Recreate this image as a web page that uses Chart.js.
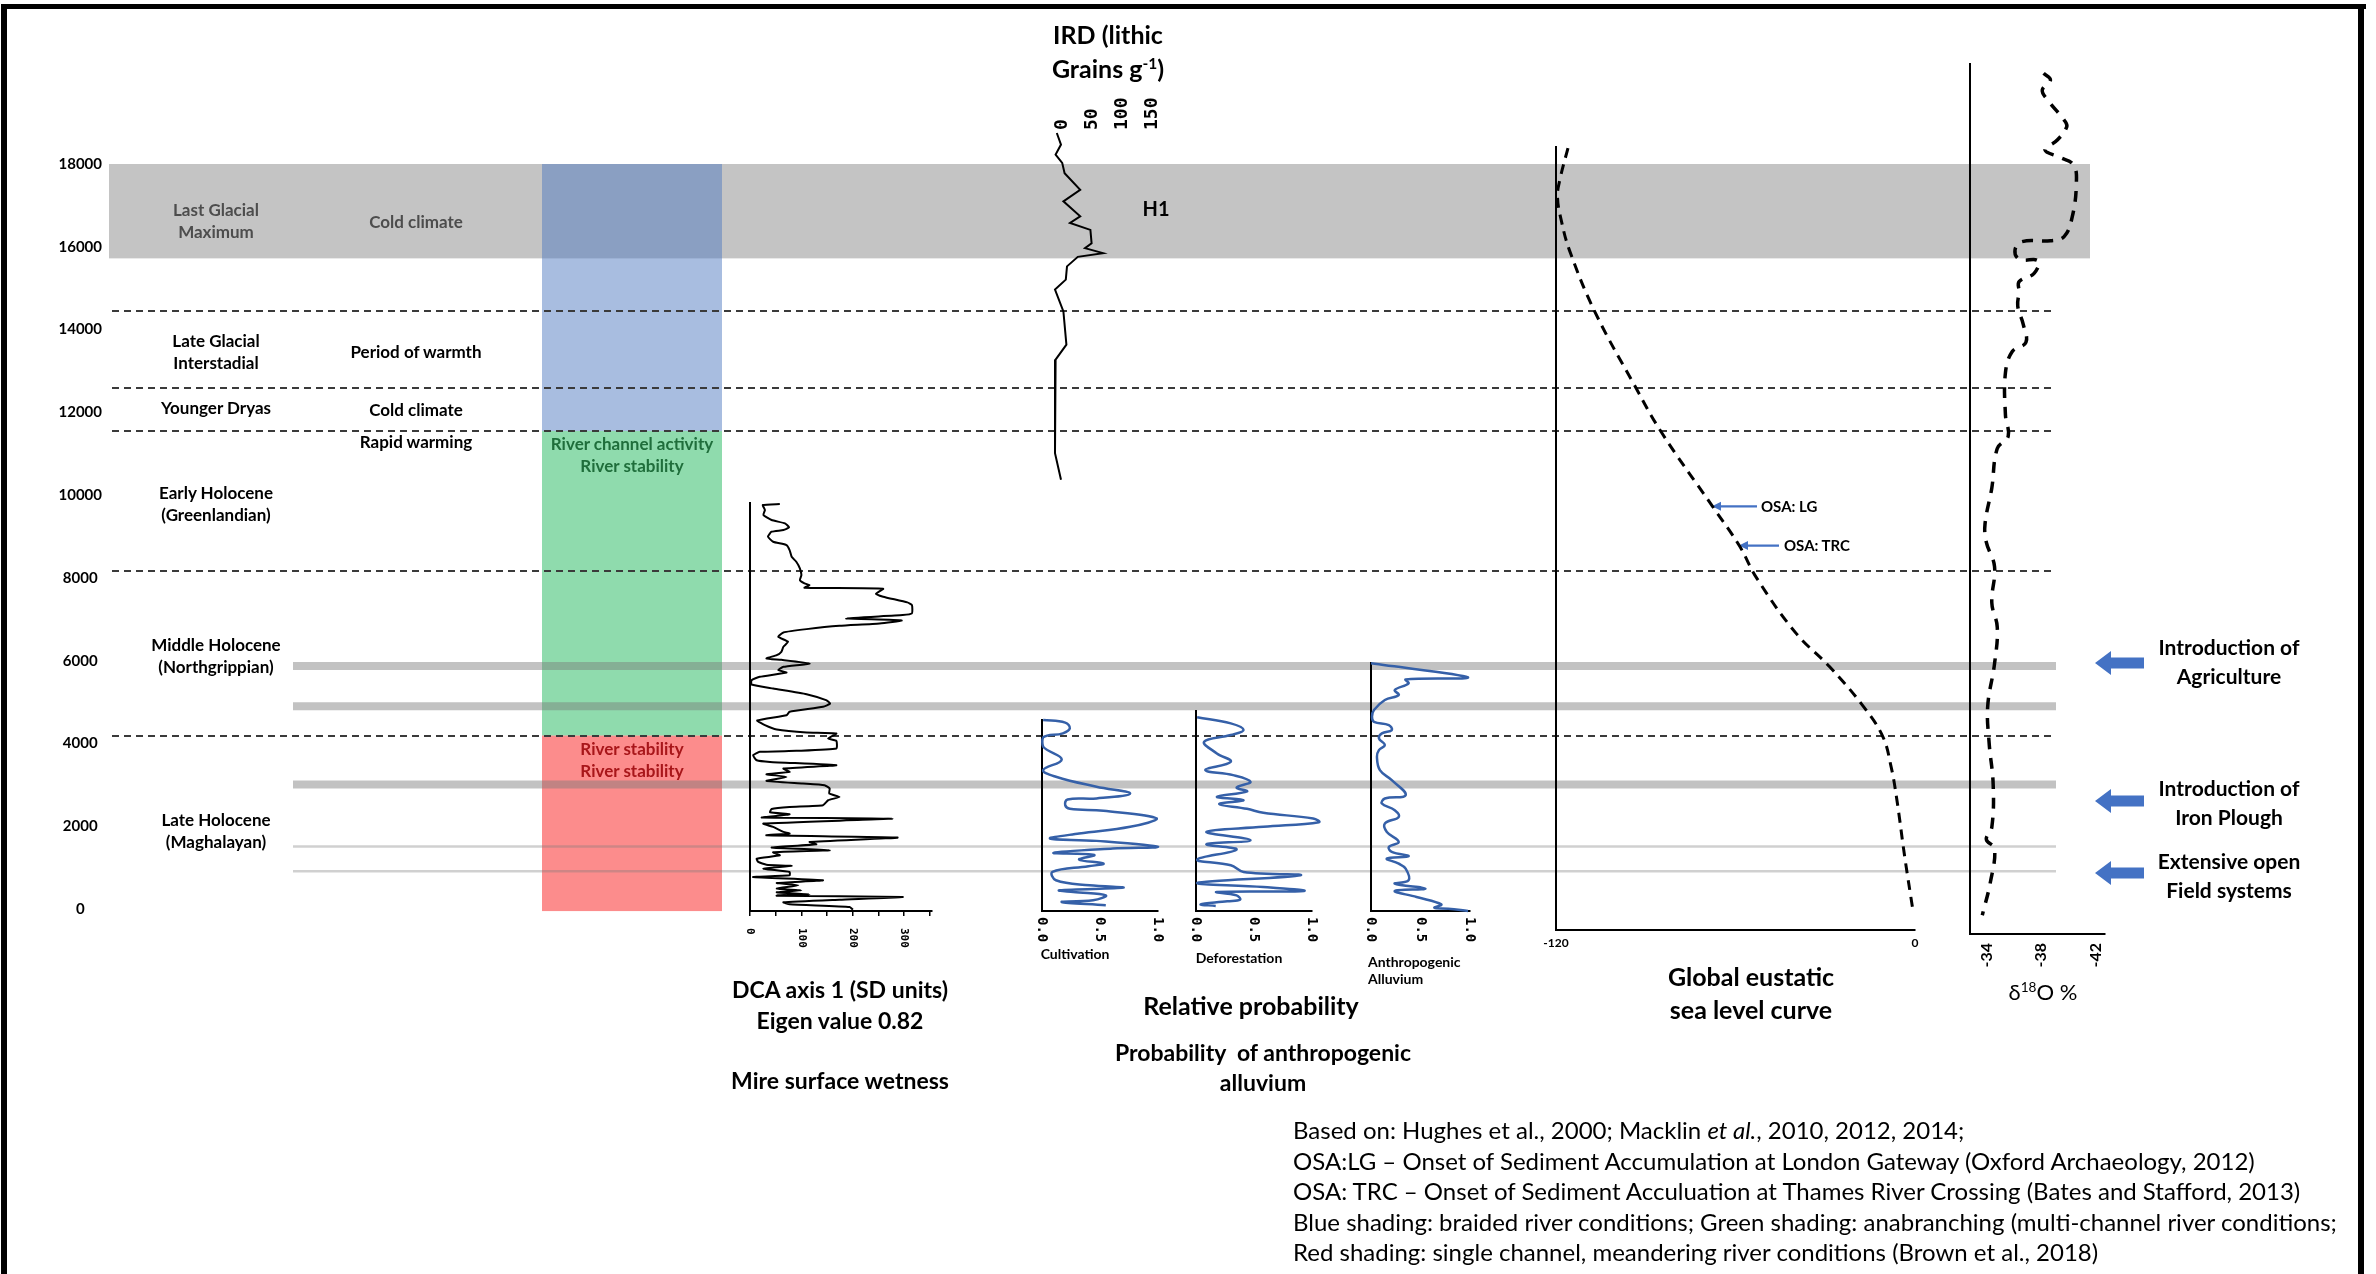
<!DOCTYPE html>
<html>
<head>
<meta charset="utf-8">
<script src="https://cdn.jsdelivr.net/npm/chart.js@4.4.1/dist/chart.umd.min.js"></script>
<style>
  body { margin: 0; background: #fff; }
  #fig { position: relative; width: 2376px; height: 1274px; overflow: hidden; background: #fff;
         font-family: Lato, "Open Sans", sans-serif; color: #000; }
  #fig canvas { position: absolute; }
  .t { position: absolute; white-space: nowrap; font-weight: 700; }
  sup { font-size: 62%; line-height: 0; vertical-align: super; }
</style>
</head>
<body>
<div id="fig"><canvas id="bg" width="2376" height="1274" style="left:0;top:0"></canvas></div>
<script>
// ---- data (years BP on the vertical axis) ----
const irdYears = [18740, 18460, 18220, 18020, 17770, 17370, 17090, 16730, 16570, 16400, 16080, 15960,
  15840, 15750, 15520, 15200, 14960, 14430, 13630, 13270, 12620, 11570, 11010, 10370];
const irdGrains = [3, 10, 1, 12, 16, 42, 14, 42, 25, 59, 61, 50, 80, 38, 20, 18, 0, 14, 19, 1, 0, 0, 0, 10];

const dcaYears = [9786, 9761, 9641, 9520, 9399, 9318, 9222, 9157, 9117, 8996, 8875, 8795, 8674, 8513, 8392,
  8231, 8070, 7949, 7869, 7828, 7764, 7740, 7619, 7547, 7410, 7345, 7144, 7104, 7023, 6975, 6902, 6846,
  6765, 6685, 6580, 6459, 6338, 6218, 6137, 6057, 6024, 5936, 5855, 5775, 5718, 5614, 5533, 5428, 5332,
  5195, 5050, 4969, 4889, 4768, 4687, 4560, 4446, 4341, 4269, 4245, 4124, 4067, 3882, 3826, 3802, 3721,
  3600, 3560, 3480, 3399, 3318, 3262, 3198, 3101, 3037, 2996, 2916, 2795, 2714, 2634, 2513, 2473, 2424,
  2344, 2296, 2263, 2215, 2191, 2070, 1990, 1869, 1828, 1788, 1732, 1627, 1571, 1490, 1426, 1377, 1305,
  1224, 1144, 1079, 1047, 983, 902, 822, 781, 701, 636, 580, 499, 459, 411, 363, 330, 298, 234, 169, 121,
  57, -8];
const dcaScores = [58, 25, 29, 26, 42, 68, 76, 65, 42, 35, 45, 71, 77, 81, 90,
  97, 100, 97, 106, 116, 106, 259, 245, 259, 306, 315, 315, 297, 187, 295, 252, 174,
  110, 65, 55, 74, 65, 61, 52, 32, 61, 116, 65, 55, 71, 19, 3, 3, 45,
  110, 148, 156, 142, 77, 71, 14, 29, 52, 110, 168, 152, 168, 168, 90, 19, 6,
  13, 39, 168, 65, 77, 32, 71, 32, 103, 145, 155, 154, 174, 152, 142, 77, 42,
  39, 77, 58, 23, 277, 26, 45, 65, 77, 32, 287, 116, 129, 42, 155, 45, 58,
  13, 16, 32, 81, 26, 77, 77, 6, 142, 52, 94, 52, 100, 52, 116, 52, 297, 174, 65, 77,
  194, 200];

const cultYears = [4567, 4502, 4365, 4245, 4148, 3922, 3616, 3359, 3198, 2956, 2795, 2674, 2650, 2513, 2424,
  2376, 2191, 1990, 1828, 1708, 1651, 1506, 1466, 1361, 1310, 1200, 1103, 1039, 902, 701, 580, 524, 459,
  419, 338, 218, 177, 97];
const cultProb = [0.01, 0.20, 0.24, 0.18, 0.01, 0.01, 0.17, 0.01, 0.12, 0.47, 0.76, 0.47, 0.22, 0.20, 0.24,
  0.53, 0.99, 0.76, 0.32, 0.07, 0.47, 1.0, 0.61, 0.10, 0.45, 0.32, 0.53, 0.40, 0.09, 0.12, 0.41, 0.70, 0.15,
  0.27, 0.55, 0.44, 0.17, 0.55];

const defoYears = [4631, 4486, 4325, 4204, 4043, 3761, 3560, 3359, 3238, 3077, 2940, 2843, 2714, 2634, 2537,
  2424, 2328, 2191, 2102, 1990, 1869, 1667, 1571, 1442, 1200, 1063, 902, 822, 636, 540, 443, 419, 338, 234,
  193, 121, 81];
const defoProb = [0.01, 0.30, 0.41, 0.30, 0.07, 0.18, 0.30, 0.08, 0.32, 0.47, 0.35, 0.44, 0.18, 0.41, 0.20,
  0.44, 0.58, 1.01, 1.06, 0.58, 0.09, 0.47, 0.09, 0.35, 0.01, 0.30, 0.41, 0.90, 0.01, 0.58, 0.93, 0.18, 0.35,
  0.38, 0.27, 0.04, 0.17];

const alluYears = [5936, 5598, 5549, 5453, 5292, 5171, 5050, 4808, 4647, 4526, 4446, 4325, 4245, 4124, 3963,
  3842, 3681, 3359, 3117, 2754, 2674, 2553, 2392, 2231, 2070, 1869, 1627, 1506, 1385, 1281, 1224, 1103, 983,
  701, 620, 499, 443, 298, 121, 40, 16, -40];
const alluProb = [0.0, 0.98, 0.35, 0.38, 0.24, 0.28, 0.14, 0.03, 0.01, 0.03, 0.18, 0.21, 0.11, 0.08, 0.14,
  0.08, 0.06, 0.09, 0.21, 0.35, 0.14, 0.11, 0.24, 0.28, 0.14, 0.16, 0.28, 0.18, 0.21, 0.38, 0.16, 0.28, 0.35,
  0.38, 0.24, 0.55, 0.24, 0.46, 0.71, 0.64, 0.78, 0.98];

const seaYears = [18375, 17642, 17203, 16618, 15886, 14421, 12665, 11493, 9734, 8782, 7978, 6661, 5854, 4905,
  4170, 3438, 2706, 1242, -75];
const seaLevel = [-116, -118.6, -119.5, -118.2, -115.4, -107, -93.9, -84.6, -67.8, -58.8, -52.8, -39.8, -28.6,
  -17.4, -10.8, -8, -6.2, -3.4, -0.6];

const d18oYears = [20190, 20029, 19788, 19546, 19063, 18902, 18579, 18338, 18161, 17975, 17532, 16727, 16244,
  16147, 16123, 15922, 15700, 15660, 15358, 15157, 14915, 14567, 14130, 13690, 13470, 12958, 11931, 11418,
  11126, 10174, 9297, 8857, 8270, 7393, 6806, 5929, 4902, 4025, 3000, 1974, 1681, 1462, 657, -150];
const d18oValues = [-38.2, -38.7, -38.1, -38.5, -39.7, -39.9, -39.2, -38.3, -39.4, -40.4, -40.6, -40.3, -39.7,
  -38.7, -36.6, -36.1, -36.4, -37.8, -37.5, -36.4, -36.4, -36.3, -36.7, -36.9, -35.9, -35.4, -35.4, -35.6,
  -34.8, -34.4, -33.9, -34, -34.6, -34.4, -34.8, -34.6, -34.1, -34.2, -34.5, -34.4, -34, -34.6, -34.3, -33.7];

// tick labels
const irdTicks = [0, 50, 100, 150];
const dcaTicks = [0, 100, 200, 300];
const dcaMarks = [0, 50, 100, 150, 200, 250, 300, 350];
const probTicks = [0, 0.5, 1];
const seaTicks = [-120, 0];
const d18oTicks = [-34, -38, -42];

// periods and shading (years BP)
const glacialBand = [15720, 18000];
const riverSpans = [[11550, 18000], [4190, 11550], [-50, 4190]];
const riverColors = ['rgba(78,120,192,0.49)', 'rgba(27,182,88,0.49)', 'rgba(249,20,20,0.49)'];
const boundaryYears = [14450, 12600, 11550, 8170, 4190];
const eventYears = [5870, 4900, 3010];
const eventThinYears = [1510, 910];
const osaYears = [9730, 8780];

Chart.defaults.font.family = 'Lato, "Open Sans", sans-serif';
Chart.defaults.color = '#000';

// x axis whose rotated labels hang downward (read top to bottom)
class DownLinearScale extends Chart.LinearScale {
  _getXAxisLabelAlignment() {
    return this.labelRotation < 0 ? 'left' : super._getXAxisLabelAlignment();
  }
}
DownLinearScale.id = 'downLinear';
DownLinearScale.defaults = Chart.LinearScale.defaults;
Chart.register(DownLinearScale);

const fig = document.getElementById('fig');
function py(yr) { return 909 - yr * 745 / 18000; }

const bgShapes = {
  id: 'bgShapes',
  beforeDatasetsDraw(chart) {
    const ctx = chart.ctx, Y = v => chart.scales.y.getPixelForValue(v);
    ctx.save();
    ctx.fillStyle = '#c4c4c4';
    ctx.fillRect(109, Y(glacialBand[1]), 2090 - 109, Y(glacialBand[0]) - Y(glacialBand[1]));
    riverSpans.forEach((s, i) => {
      ctx.fillStyle = riverColors[i];
      ctx.fillRect(542, Y(s[1]), 180, Y(s[0]) - Y(s[1]));
    });
    ctx.strokeStyle = '#3a3a3a'; ctx.lineWidth = 2; ctx.setLineDash([7, 5]);
    boundaryYears.forEach(v => {
      const p = Math.round(Y(v));
      ctx.beginPath(); ctx.moveTo(112, p); ctx.lineTo(2056, p); ctx.stroke();
    });
    ctx.setLineDash([]);
    ctx.strokeStyle = 'rgba(120,120,120,0.45)'; ctx.lineWidth = 8;
    eventYears.forEach(v => {
      ctx.beginPath(); ctx.moveTo(293, Y(v)); ctx.lineTo(2056, Y(v)); ctx.stroke();
    });
    ctx.strokeStyle = 'rgba(120,120,120,0.35)'; ctx.lineWidth = 2.5;
    eventThinYears.forEach(v => {
      ctx.beginPath(); ctx.moveTo(293, Y(v)); ctx.lineTo(2056, Y(v)); ctx.stroke();
    });
    // block arrows on the right
    ctx.fillStyle = '#4472c4';
    [663, 801, 873].forEach(y => {
      ctx.beginPath();
      ctx.moveTo(2095, y); ctx.lineTo(2111, y - 12); ctx.lineTo(2111, y - 5.5); ctx.lineTo(2144, y - 5.5);
      ctx.lineTo(2144, y + 5.5); ctx.lineTo(2111, y + 5.5); ctx.lineTo(2111, y + 12); ctx.closePath(); ctx.fill();
    });
    // OSA arrows
    ctx.strokeStyle = '#4472c4'; ctx.lineWidth = 2.2;
    [[1712, 1757], [1739, 1779]].forEach((a, i) => {
      const y = Y(osaYears[i]);
      ctx.beginPath(); ctx.moveTo(a[1], y); ctx.lineTo(a[0] + 6, y); ctx.stroke();
      ctx.beginPath(); ctx.moveTo(a[0], y); ctx.lineTo(a[0] + 9, y - 4.5); ctx.lineTo(a[0] + 9, y + 4.5); ctx.closePath(); ctx.fill();
    });
    // frame
    ctx.fillStyle = '#000';
    ctx.fillRect(1, 4, 6, 1274);
    ctx.fillRect(1, 4, 2365, 5);
    ctx.fillRect(2358, 4, 6, 1274);
    ctx.restore();
  }
};

new Chart(document.getElementById('bg'), {
  type: 'scatter',
  data: { datasets: [] },
  plugins: [bgShapes],
  options: {
    responsive: false, animation: false, devicePixelRatio: 1,
    layout: { padding: { left: 0, right: 276, top: 164, bottom: 1274 - 909 } },
    plugins: { legend: { display: false }, tooltip: { enabled: false } },
    scales: {
      x: { display: false, min: 0, max: 1 },
      y: {
        min: 0, max: 18000,
        afterFit: s => { s.width = 109; },
        ticks: { stepSize: 2000, crossAlign: 'center', padding: 7, color: '#000',
                 font: { size: 15, weight: 'bold' }, callback: v => String(v) },
        grid: { display: false, drawTicks: false },
        border: { display: false }
      }
    }
  }
});

// ---- one small chart per proxy record, sharing the same year-to-pixel mapping ----
const PAD = 30;
function panel(o) {
  const topH = o.topH || 0, botH = o.botH || 0;
  const top = py(o.yMax), bottom = py(o.yMin);
  const cv = document.createElement('canvas');
  cv.width = Math.round(o.x1 - o.x0 + 2 * PAD);
  cv.height = Math.round(bottom - top + topH + botH + 2 * PAD);
  cv.style.left = Math.round(o.x0 - PAD) + 'px';
  cv.style.top = Math.round(top - topH - PAD) + 'px';
  fig.appendChild(cv);
  new Chart(cv, {
    type: 'scatter',
    data: {
      datasets: [{
        data: o.years.map((yr, i) => ({ x: o.values[i], y: yr })),
        showLine: true, pointRadius: 0, fill: false, clip: false,
        borderColor: o.color || '#000', borderWidth: o.width || 2,
        borderDash: o.dash || [], tension: o.tension || 0
      }]
    },
    options: {
      responsive: false, animation: false, devicePixelRatio: 1,
      layout: { padding: PAD },
      plugins: { legend: { display: false }, tooltip: { enabled: false } },
      scales: {
        x: {
          type: o.down ? 'downLinear' : 'linear',
          position: o.xPos || 'bottom',
          min: o.xMin, max: o.xMax, reverse: !!o.reverse,
          afterFit: s => { s.height = o.xPos === 'top' ? topH : botH; },
          afterBuildTicks: s => { s.ticks = (o.marks || o.ticks).map(v => ({ value: v })); },
          ticks: {
            autoSkip: false, minRotation: o.rot || 0, maxRotation: o.rot || 0,
            padding: o.pad || 4, labelOffset: o.labelOffset || 0, color: '#000',
            font: o.tickFont,
            callback: v => (o.ticks.includes(v) ? (o.fmt ? o.fmt(v) : String(v)) : '')
          },
          grid: { display: !!o.tickMarks, drawOnChartArea: false, drawTicks: !!o.tickMarks,
                  tickLength: 5, color: '#000', lineWidth: 1.5 },
          border: { display: o.xBorder !== false, color: '#000', width: 2 }
        },
        y: {
          min: o.yMin, max: o.yMax,
          afterFit: s => { s.width = 0; },
          ticks: { display: false },
          grid: { display: false, drawTicks: false },
          border: { display: o.yBorder !== false, color: '#000', width: 2 }
        }
      }
    }
  });
}

const monoFont = size => ({ family: '"DejaVu Sans Mono", monospace', size: size, weight: 'bold' });

// IRD
panel({ years: irdYears, values: irdGrains, x0: 1055, x1: 1145, xMin: 0, xMax: 150,
  yMin: 10000, yMax: 18740, xPos: 'top', topH: 45, ticks: irdTicks, rot: 90, pad: 3, labelOffset: 29,
  tickFont: monoFont(18), xBorder: false, yBorder: false, width: 2 });
// DCA axis 1
panel({ years: dcaYears, values: dcaScores, x0: 750, x1: 932, xMin: 0, xMax: 354,
  yMin: -40, yMax: 9810, botH: 40, ticks: dcaTicks, marks: dcaMarks, tickMarks: true,
  down: true, rot: -90, pad: 12, tickFont: monoFont(11), width: 2, tension: 0.15 });
// relative probability panels
const probCfg = { xMin: 0, xMax: 1, yMin: -40, botH: 35, ticks: probTicks, down: true, rot: -90, pad: 6,
  tickFont: monoFont(14), fmt: v => v.toFixed(1), color: '#3560a8', width: 2.5, tension: 0.4 };
panel(Object.assign({}, probCfg, { years: cultYears, values: cultProb, x0: 1042, x1: 1158, yMax: 4566 }));
panel(Object.assign({}, probCfg, { years: defoYears, values: defoProb, x0: 1196, x1: 1312, yMax: 4784 }));
panel(Object.assign({}, probCfg, { years: alluYears, values: alluProb, x0: 1371, x1: 1470, yMax: 5944 }));
// sea level
panel({ years: seaYears, values: seaLevel, x0: 1556, x1: 1915, xMin: -120, xMax: 0,
  yMin: -507, yMax: 18400, botH: 25, ticks: seaTicks, pad: 6,
  tickFont: { size: 12, weight: 'bold' }, width: 3, dash: [10, 7], tension: 0.4 });
// delta 18O
panel({ years: d18oYears, values: d18oValues, x0: 1970, x1: 2105, xMin: -42.7, xMax: -32.8, reverse: true,
  yMin: -604, yMax: 20416, botH: 40, ticks: d18oTicks, rot: 90, pad: 9,
  tickFont: { size: 16, weight: 'bold' }, width: 3.5, dash: [11, 9], tension: 0.4 });

// ---- text ----
function txt(html, x, y, o) {
  o = o || {};
  const d = document.createElement('div');
  d.className = 't';
  d.innerHTML = html;
  const size = o.size || 17;
  d.style.fontSize = size + 'px';
  d.style.lineHeight = (o.lh || Math.round(size * 1.35)) + 'px';
  d.style.left = x + 'px';
  d.style.top = y + 'px';
  if (o.weight) d.style.fontWeight = o.weight;
  if (o.color) d.style.color = o.color;
  d.style.textAlign = o.align || 'center';
  d.style.transform = o.align === 'left' ? 'translate(0,-50%)' : 'translate(-50%,-50%)';
  fig.appendChild(d);
}
const grey = '#4d4d4d';
txt('Last Glacial<br>Maximum', 216, 221, { lh: 22, color: grey });
txt('Late Glacial<br>Interstadial', 216, 352, { lh: 22 });
txt('Younger Dryas', 216, 407);
txt('Early Holocene<br>(Greenlandian)', 216, 504, { lh: 22 });
txt('Middle Holocene<br>(Northgrippian)', 216, 656, { lh: 22 });
txt('Late Holocene<br>(Maghalayan)', 216, 831, { lh: 22 });
txt('Cold climate', 416, 221, { color: grey });
txt('Period of warmth', 416, 351);
txt('Cold climate', 416, 409);
txt('Rapid warming', 416, 441);
txt('River channel activity<br>River stability', 632, 455, { lh: 22, color: '#1f6e3b' });
txt('River stability<br>River stability', 632, 760, { lh: 22, color: '#a8161a' });

txt('IRD (lithic<br>Grains g<sup>-1</sup>)', 1108, 51, { size: 25, lh: 34 });
txt('H1', 1156, 208, { size: 20 });
txt('OSA: LG', 1761, 506, { size: 15, align: 'left' });
txt('OSA: TRC', 1784, 545, { size: 15, align: 'left' });

txt('DCA axis 1 (SD units)', 840, 989, { size: 23 });
txt('Eigen value 0.82', 840, 1020, { size: 23 });
txt('Mire surface wetness', 840, 1080, { size: 23 });
txt('Cultivation', 1075, 953, { size: 14 });
txt('Deforestation', 1239, 957, { size: 14 });
txt('Anthropogenic<br>Alluvium', 1368, 970, { size: 14, lh: 17, align: 'left' });
txt('Relative probability', 1251, 1005, { size: 25 });
txt('Probability&nbsp; of anthropogenic<br>alluvium', 1263, 1067, { size: 23, lh: 30 });
txt('Global eustatic<br>sea level curve', 1751, 993, { size: 25, lh: 33 });
txt('&delta;<sup>18</sup>O %', 2043, 992, { size: 22, weight: 400 });

txt('Introduction of<br>Agriculture', 2229, 661, { size: 21, lh: 29 });
txt('Introduction of<br>Iron Plough', 2229, 802, { size: 21, lh: 29 });
txt('Extensive open<br>Field systems', 2229, 875, { size: 21, lh: 29 });

txt('Based on: Hughes et al., 2000; Macklin <i>et al.</i>, 2010, 2012, 2014;<br>' +
    'OSA:LG \u2013 Onset of Sediment Accumulation at London Gateway (Oxford Archaeology, 2012)<br>' +
    'OSA: TRC \u2013 Onset of Sediment Acculuation at Thames River Crossing (Bates and Stafford, 2013)<br>' +
    'Blue shading: braided river conditions; Green shading: anabranching (multi-channel river conditions;<br>' +
    'Red shading: single channel, meandering river conditions (Brown et al., 2018)',
    1293, 1191, { size: 24, lh: 30.5, weight: 400, align: 'left' });
</script>
</body>
</html>
